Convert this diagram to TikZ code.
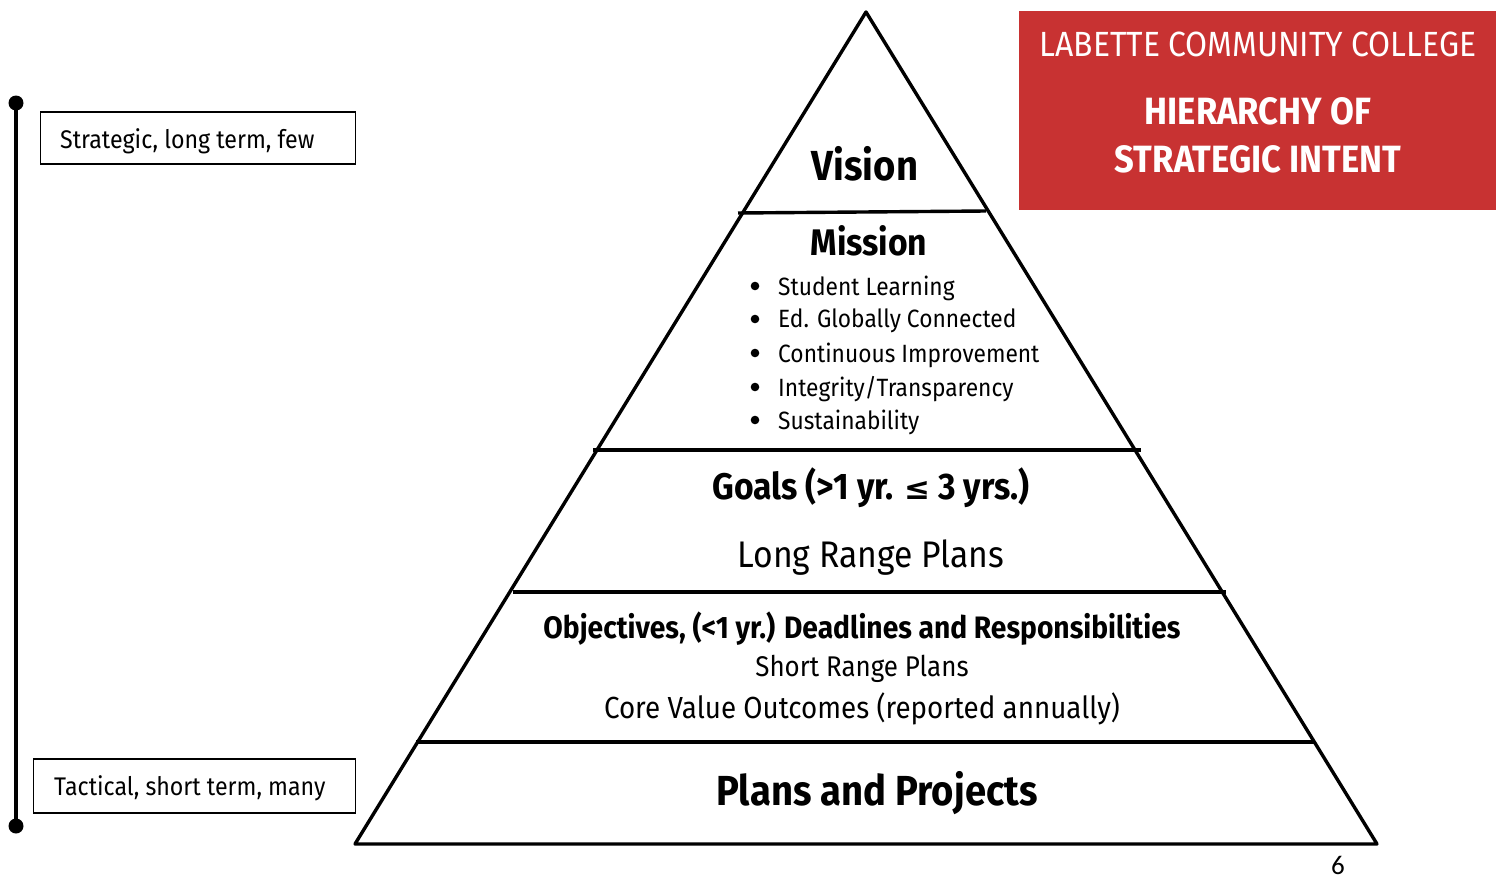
\documentclass[tikz,border=0pt]{standalone}
\usepackage{fontspec}
\setmainfont[FakeStretch=0.91]{Fira Sans}
\newfontfamily\pagefont{Carlito}
\newfontfamily\symfont{DejaVu Sans}
\definecolor{lccred}{HTML}{C83232}
\begin{document}
\begin{tikzpicture}[x=1pt,y=-1pt,
  edge/.style={line width=3.4pt,line cap=round,line join=round},
  level/.style={line width=3.4pt},
  sidebox/.style={draw,line width=1.2pt,minimum height=52pt,anchor=west,inner sep=0pt},
  lbl/.style={inner sep=0pt,font=\fontsize{25.5}{30}\selectfont},
  bold/.style={inner sep=0pt,font=\bfseries},
  txt/.style={inner sep=0pt}]
\useasboundingbox (0,0) rectangle (1502,881);
% scale bar
\coordinate (st) at (16,103);
\coordinate (sb) at (16,826);
\draw[line width=3.6pt] (st) -- (sb);
\fill (st) circle (7.5);
\fill (sb) circle (7.5);
\node[sidebox,minimum width=315pt] (b1) at (40,138) {};
\node[lbl,anchor=west] (t1) at (60,141) {Strategic, long term, few};
\node[sidebox,minimum width=322pt,minimum height=54pt] (b2) at (33,786) {};
\node[lbl,anchor=west] (t2) at (54,788) {Tactical, short term, many};
% title box
\node[fill=lccred,minimum width=477pt,minimum height=199pt,anchor=north west,inner sep=0pt] (title) at (1019,11) {};
\node[txt,text=white,font=\fontsize{35}{40}\selectfont] (t3) at (1258,44) {LABETTE COMMUNITY COLLEGE};
\node[txt,text=white,font=\fontsize{38}{44}\selectfont\bfseries] (t4) at (1258,111) {HIERARCHY OF};
\node[txt,text=white,font=\fontsize{38}{44}\selectfont\bfseries] (t5) at (1258,159) {STRATEGIC INTENT};
% pyramid
\coordinate (apex) at (866,12);
\coordinate (bl) at (355,844);
\coordinate (br) at (1377,844);
\draw[edge] (apex) -- (bl) -- (br) -- cycle;
\coordinate (l1a) at (738,213); \coordinate (l1b) at (986,211);
\coordinate (l2a) at (593,450); \coordinate (l2b) at (1141,450);
\coordinate (l3a) at (513,592); \coordinate (l3b) at (1226,592);
\coordinate (l4a) at (416,742); \coordinate (l4b) at (1314,742);
\draw[level] (l1a) -- (l1b);
\draw[level] (l2a) -- (l2b);
\draw[level] (l3a) -- (l3b);
\draw[level] (l4a) -- (l4b);
% texts
\node[bold,font=\fontsize{42}{48}\selectfont\bfseries] (vision) at (865,164) {Vision};
\node[bold,font=\fontsize{37}{44}\selectfont\bfseries] (mission) at (869,241) {Mission};
\foreach \y/\t [count=\i] in {286/{Student Learning},319/{Ed. Globally Connected},353/{Continuous Improvement},387/{Integrity/Transparency},420/{Sustainability}}{
  \fill (755,\y) circle (4.3);
  \node[txt,anchor=west,font=\fontsize{25}{30}\selectfont] (m\i) at (778,\y+2) {\t};
}
\node[bold,font=\fontsize{37}{44}\selectfont\bfseries] (goals) at (871,488) {Goals (>1 yr. {\symfont\fontsize{31}{36}\selectfont\bfseries ≤} 3 yrs.)};
\node[txt,font=\fontsize{37}{42}\selectfont] (lrp) at (871,558) {Long Range Plans};
\node[bold,font=\fontsize{31}{36}\selectfont\bfseries] (obj) at (862,629) {Objectives, (<1 yr.) Deadlines and Responsibilities};
\node[txt,font=\fontsize{28.5}{32}\selectfont] (srp) at (862,669) {Short Range Plans};
\node[txt,font=\fontsize{30.5}{36}\selectfont] (cvo) at (862,709) {Core Value Outcomes (reported annually)};
\node[bold,font=\fontsize{42}{48}\selectfont\bfseries] (pp) at (877,793) {Plans and Projects};
\node[txt,font=\pagefont\fontsize{27}{32}\selectfont] (pg) at (1338,865) {6};
\end{tikzpicture}
\end{document}
